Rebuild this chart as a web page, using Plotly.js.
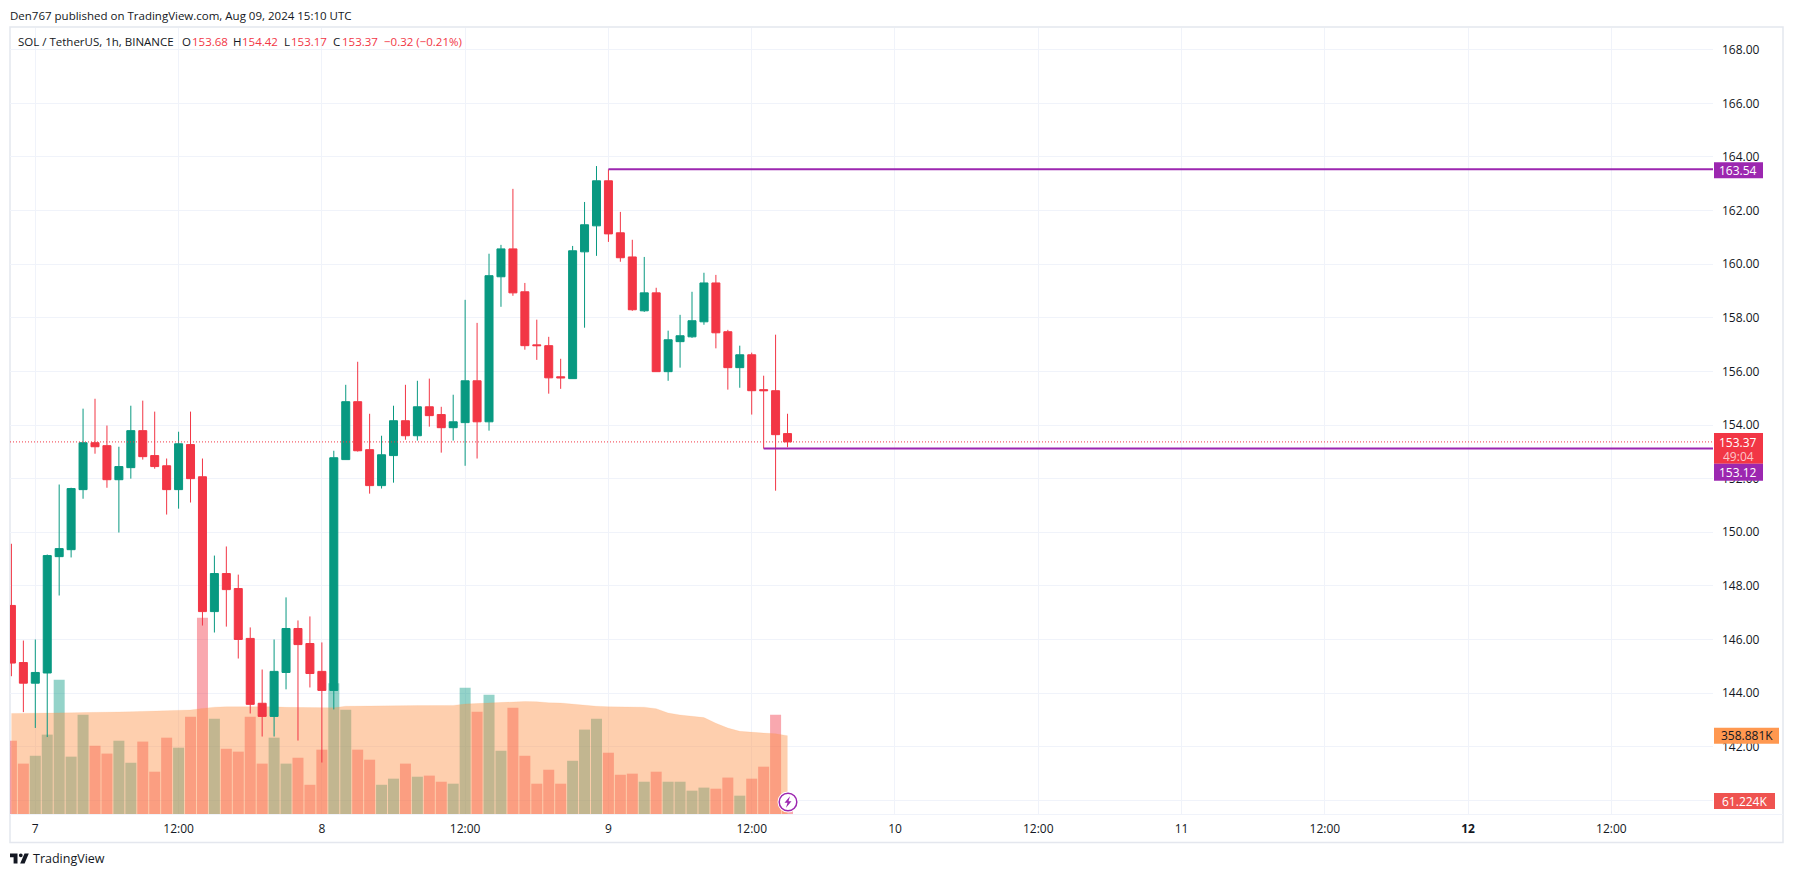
<!DOCTYPE html>
<html><head><meta charset="utf-8">
<script src="https://cdn.plot.ly/plotly-3.0.1.min.js"></script>
<style>html,body{margin:0;padding:0;background:#fff}#c{width:1794px;height:877px}</style>
</head><body><div id="c"></div>
<script>
// Hourly candles, first one on Aug 6 22:00 UTC
const opens  = [147.27,145.14,144.37,144.75,149.09,149.35,151.59,153.34,153.23,151.96,152.41,153.79,152.86,152.48,151.59,153.27,152.07,147.04,148.46,147.90,146.04,143.62,143.13,144.77,146.41,145.85,144.81,144.10,152.71,154.87,153.08,151.74,152.86,154.16,153.60,154.68,154.39,153.90,154.09,155.65,154.12,159.53,160.57,158.97,156.99,156.96,155.80,155.73,160.46,161.43,163.11,161.17,160.27,158.26,158.93,155.99,157.11,157.29,157.85,159.30,157.48,156.14,156.62,155.32,155.28,153.68];
const highs  = [149.57,145.96,146.00,149.17,151.78,151.66,154.61,154.98,153.98,153.19,154.72,154.91,154.50,152.75,153.75,154.50,152.75,149.13,149.47,148.42,146.45,144.88,146.00,147.57,146.71,146.86,145.89,153.04,155.50,156.36,154.42,153.60,154.72,155.50,155.65,155.73,154.68,155.13,158.67,157.81,160.39,160.72,162.81,159.30,157.93,157.29,156.47,160.68,162.32,163.66,163.54,161.95,160.91,160.27,159.12,157.52,158.11,158.97,159.68,159.60,157.55,156.96,156.70,155.84,157.37,154.42];
const lows   = [144.63,143.29,142.70,142.36,147.64,149.06,151.25,152.93,151.66,149.99,152.00,152.71,152.37,150.66,150.88,151.11,146.52,146.26,146.48,145.29,143.24,142.38,142.38,144.14,142.23,144.21,141.41,143.39,152.71,153.01,151.44,151.63,151.85,153.45,153.42,153.94,152.97,153.42,152.48,152.75,153.79,158.41,158.82,156.81,156.43,155.17,155.35,155.73,157.63,160.31,160.83,160.09,158.26,158.22,155.99,155.65,156.14,157.25,157.74,156.86,155.32,155.39,154.39,153.12,151.55,153.17];
const closes = [145.12,144.37,144.77,149.13,149.39,151.63,153.34,153.19,151.96,152.45,153.79,152.82,152.45,151.59,153.30,152.00,147.04,148.46,147.86,146.00,143.58,143.13,144.81,146.41,145.81,144.73,144.10,152.78,154.87,153.04,151.74,152.89,154.16,153.60,154.68,154.35,153.90,154.12,155.65,154.12,159.57,160.57,158.93,156.96,156.96,155.76,155.76,160.50,161.47,163.11,161.13,160.24,158.30,158.93,155.99,157.18,157.33,157.89,159.30,157.44,156.14,156.62,155.28,155.28,153.64,153.37];
// Volume in thousands of SOL and its moving average
const volumes = [336,231,267,364,616,263,455,313,277,336,235,332,194,350,304,446,900,437,299,286,446,231,350,231,258,134,295,600,478,295,249,134,162,231,171,176,148,139,579,469,547,290,487,267,139,203,139,244,387,437,281,180,185,148,194,148,148,107,121,116,167,84,162,217,455,61.224];
const volumeMA = [461,461,461,462,463,464,465,465,466,468,469,471,472,474,475,477,484,490,492,492,493,494,492,489,489,487,487,487,494,495,496,496,497,496,497,497,498,498,504,507,509,513,516,516,515,510,509,504,498,494,492,492,492,490,483,463,454,449,442,416,394,379,374,371,368,358.881];
// Horizontal levels
const currentPrice = 153.37;
const upperLevel = 163.54, upperLevelStart = 50;
const lowerLevel = 153.12, lowerLevelStart = 63;
const startHourUTC = 22;
const dayTicks = ['2024-08-07 00:00','2024-08-07 12:00','2024-08-08 00:00','2024-08-08 12:00','2024-08-09 00:00','2024-08-09 12:00','2024-08-10 00:00','2024-08-10 12:00','2024-08-11 00:00','2024-08-11 12:00','2024-08-12 00:00','2024-08-12 12:00'];
const dayLabels = ['7','12:00','8','12:00','9','12:00','10','12:00','11','12:00','<b>12</b>','12:00'];
const priceTicks = [140,142,144,146,148,150,152,154,156,158,160,162,164,166,168];
const priceLabels = ['','142.00','144.00','146.00','148.00','150.00','152.00','154.00','156.00','158.00','160.00','162.00','164.00','166.00','168.00'];
const xRange = ['2024-08-06 21:52:51','2024-08-12 20:30:36'];
const priceRange = [139.49,168.81];
const volumeRange = [0,3604];

const UP='#089981', DOWN='#f23645', PURPLE='#9c27b0', INK='#131722';
const FONT='"Open Sans", sans-serif';
const times = closes.map((_,i)=>new Date(Date.UTC(2024,7,6,startHourUTC+i)).toISOString().slice(0,16).replace('T',' '));
const volColors = closes.map((c,i)=> c>=opens[i] ? 'rgba(8,153,129,0.43)' : 'rgba(242,54,69,0.43)');

// pane pixel -> paper helpers for furniture (labels, frame, icons)
const L=10,R=1713,T=28,B=814.5;
const PX=x=>(x-L)/(R-L), PY=y=>1-(y-T)/(B-T);

const traces=[
 {type:'bar',x:times,y:volumes,marker:{color:volColors,line:{width:0}},xaxis:'x',yaxis:'y',hoverinfo:'skip'},
 {type:'scatter',mode:'lines',x:times,y:volumeMA,fill:'tozeroy',fillcolor:'rgba(252,145,70,0.44)',line:{color:'rgba(252,145,70,0.12)',width:1},xaxis:'x',yaxis:'y',hoverinfo:'skip'},
 {type:'candlestick',x:times,open:opens,high:highs,low:lows,close:closes,
  increasing:{line:{color:UP,width:1},fillcolor:UP},decreasing:{line:{color:DOWN,width:1},fillcolor:DOWN},
  whiskerwidth:0,xaxis:'x',yaxis:'y2',hoverinfo:'skip'},
 {type:'scatter',mode:'lines',x:xRange,y:[currentPrice,currentPrice],line:{color:DOWN,width:1,dash:'1px 2px'},xaxis:'x',yaxis:'y2',hoverinfo:'skip'},
 {type:'scatter',mode:'lines',x:[times[upperLevelStart],xRange[1]],y:[upperLevel,upperLevel],line:{color:PURPLE,width:2},xaxis:'x',yaxis:'y2',hoverinfo:'skip'},
 {type:'scatter',mode:'lines',x:[times[lowerLevelStart],xRange[1]],y:[lowerLevel,lowerLevel],line:{color:PURPLE,width:2},xaxis:'x',yaxis:'y2',hoverinfo:'skip'}
];

function txt(x,y,t,color,size,anchor,extra){return Object.assign({xref:'paper',yref:'paper',x:PX(x),y:PY(y),text:t,showarrow:false,xanchor:anchor||'left',yanchor:'middle',font:{family:FONT,size:size||12,color:color||INK},borderpad:0,borderwidth:0},extra||{});}
function rect(x0,y0,x1,y1,fill){return {type:'rect',xref:'paper',yref:'paper',x0:PX(x0),x1:PX(x1),y0:PY(y0),y1:PY(y1),fillcolor:fill,line:{width:0},layer:'above'};}
function path(pts,fill,line){const d='M'+pts.map(p=>PX(p[0])+','+PY(p[1])).join('L')+'Z';return {type:'path',xref:'paper',yref:'paper',path:d,fillcolor:fill,line:line||{width:0},layer:'above'};}
function circ(cx,cy,r,fill,line){return {type:'circle',xref:'paper',yref:'paper',x0:PX(cx-r),x1:PX(cx+r),y0:PY(cy-r),y1:PY(cy+r),fillcolor:fill,line:line||{width:0},layer:'above'};}

const LS=11.5;
const annotations=[
 txt(10,15,'Den767 published on TradingView.com, Aug 09, 2024 15:10 UTC',INK,LS),
 txt(18,42,'SOL / TetherUS, 1h, BINANCE',INK,LS),
 txt(182,42,'O',INK,LS),txt(192,42,'153.68',DOWN,LS),
 txt(233,42,'H',INK,LS),txt(242,42,'154.42',DOWN,LS),
 txt(284,42,'L',INK,LS),txt(291,42,'153.17',DOWN,LS),
 txt(333,42,'C',INK,LS),txt(342,42,'153.37',DOWN,LS),
 txt(384,42,'−0.32 (−0.21%)',DOWN,LS),
 txt(1738.5,170.3,'163.54','#fff',12,'center'),
 txt(1738.5,442.3,'153.37','#fff',12,'center'),
 txt(1738.5,456.5,'49:04','rgba(255,255,255,0.72)',12,'center'),
 txt(1738.5,472.5,'153.12','#fff',12,'center'),
 txt(1746.5,736.3,'358.881K',INK,12,'center'),
 txt(1744.5,801.5,'61.224K','#fff',12,'center'),
 txt(33,859,'TradingView',INK,12.5)
];
const shapes=[
 {type:'rect',xref:'paper',yref:'paper',x0:PX(10),x1:PX(1783),y0:PY(27),y1:PY(843),fillcolor:'rgba(0,0,0,0)',line:{color:'#e4e7ee',width:1.5},layer:'below'},
 {type:'line',xref:'paper',yref:'paper',x0:PX(10),x1:PX(1783),y0:PY(815),y1:PY(815),line:{color:'#f0f3fa',width:1},layer:'below'},
 rect(1714,162.3,1763,178.3,PURPLE),
 rect(1714,433.3,1763,464,DOWN),
 rect(1714,464,1763,481,PURPLE),
 rect(1714,728.3,1779,744.3,'#ff9850'),
 rect(1714,793.5,1775,809.5,'#ef5350'),
 circ(788,802.5,10.5,'#ffffff'),
 circ(788,802.5,8.8,'#ffffff',{color:PURPLE,width:1.5}),
 path([[790,796.8],[784.5,803.3],[787.5,803.3],[786,808.3],[791.5,801.8],[788.5,801.8]],PURPLE),
 path([[10,854],[17.5,854],[17.5,864],[13.6,864],[13.6,857.8],[10,857.8]],INK),
 circ(20.8,855.9,1.9,INK),
 path([[24.5,854],[28.8,854],[24.6,864],[20.2,864]],INK)
];

const layout={
 width:1794,height:877,autosize:false,showlegend:false,
 margin:{l:L,r:1794-R,t:T,b:877-B,pad:0},
 paper_bgcolor:'#fff',plot_bgcolor:'#fff',bargap:0.08,boxgap:0.33,boxgroupgap:0,
 xaxis:{type:'date',range:xRange,rangeslider:{visible:false},tickmode:'array',tickvals:dayTicks,ticktext:dayLabels,
   showgrid:true,gridcolor:'#f0f3fa',gridwidth:1,zeroline:false,showline:false,ticks:'',ticklabelstandoff:6,
   tickangle:0,tickfont:{family:FONT,size:12,color:INK}},
 yaxis:{range:volumeRange,showgrid:false,zeroline:false,showticklabels:false,showline:false,ticks:''},
 yaxis2:{range:priceRange,overlaying:'y',side:'right',tickmode:'array',tickvals:priceTicks,ticktext:priceLabels,showgrid:true,gridcolor:'#f0f3fa',gridwidth:1,
   zeroline:false,showline:false,ticks:'',ticklabelstandoff:8,tickfont:{family:FONT,size:12,color:INK}},
 annotations,shapes
};
Plotly.newPlot('c',traces,layout,{displayModeBar:false,staticPlot:true});
</script></body></html>
